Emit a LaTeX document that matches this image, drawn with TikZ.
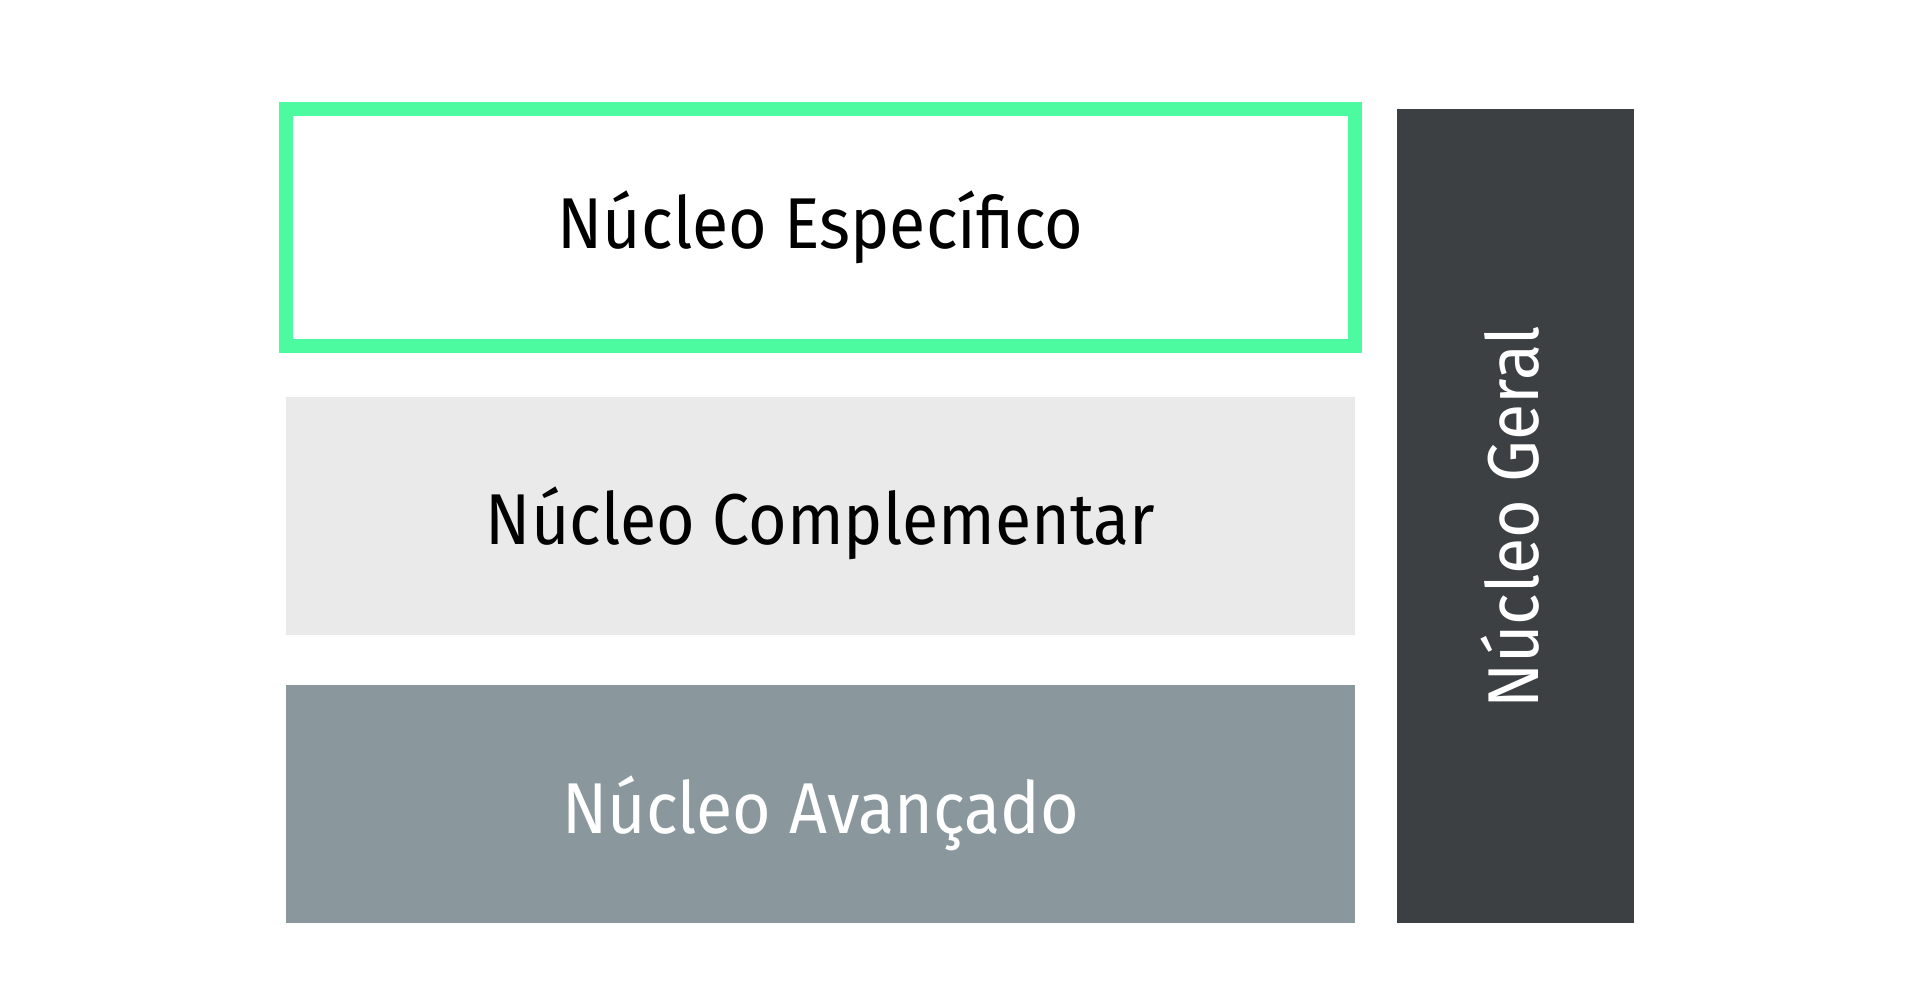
\documentclass[tikz,border=0pt]{standalone}
\usepackage{fontspec}
\setmainfont{Fira Sans}
\newfontfamily\condfont[FakeStretch=0.92]{Fira Sans}
\definecolor{nucgreen}{RGB}{76,250,160}
\definecolor{nuclight}{RGB}{234,234,234}
\definecolor{nucmid}{RGB}{138,151,156}
\definecolor{nucdark}{RGB}{60,64,67}
\begin{document}
\begin{tikzpicture}[x=1pt,y=-1pt,
  layer/.style={minimum width=1069pt,minimum height=238pt,inner sep=0pt},
  spec/.style={layer,draw=nucgreen,line width=14pt,fill=white},
  comp/.style={layer,fill=nuclight},
  adv/.style={layer,fill=nucmid},
  geral/.style={minimum width=237pt,minimum height=814pt,inner sep=0pt,fill=nucdark},
  lbl/.style={anchor=base,inner sep=0pt,font=\condfont\fontsize{72}{80}\selectfont},
  geraltext/.style={lbl,text=white,rotate=90}]
\useasboundingbox[fill=white] (0,0) rectangle (1909,1000);
\node[spec,minimum height=237pt] (esp) at (820.5,227.5) {};
\node[comp] (comp) at (820.5,516) {};
\node[adv] (adv) at (820.5,804) {};
\node[geral] (ger) at (1515.5,516) {};
\node[lbl,text=black] (esptxt) at (820.5,249) {N\'ucleo Espec\'{\i}fico};
\node[lbl,text=black] (comptxt) at (820.5,544) {N\'ucleo Complementar};
\node[lbl,text=white] (advtxt) at (820.5,833) {N\'ucleo Avan\c{c}ado};
\node[geraltext] (gertxt) at (1538,517.5) {N\'ucleo Geral};
\end{tikzpicture}
\end{document}
